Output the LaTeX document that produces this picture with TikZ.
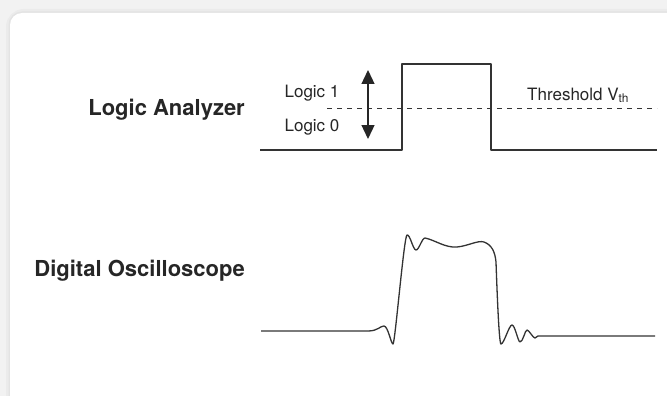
\documentclass[tikz,border=0pt]{standalone}
\usepackage{fontspec}
\setmainfont{TeX Gyre Heros}
\usetikzlibrary{positioning,arrows.meta}

\begin{document}
\begin{tikzpicture}
    [x=1pt,y=-1pt,every node/.style={inner sep=0pt,text=black!85},
    heading/.style={font=\fontsize{22}{26}\selectfont\bfseries,anchor=base east},
    small/.style={font=\fontsize{17}{20}\selectfont},
    signal/.style={line width=1.3pt,black!80,line join=round}]
    \useasboundingbox (0,0) rectangle (667,396);
    % panel
    \fill[black!5] (0,0) rectangle (667,396);
    \draw[black!8,line width=8pt,rounded corners=14pt] (10,13) rectangle (690,420);
    \draw[black!11,line width=3pt,rounded corners=12pt] (10,13) rectangle (690,420);
    \fill[white,rounded corners=12pt] (10,13) rectangle (690,420);
    % labels
    \node (la) [heading] at (245,115) {Logic Analyzer};
    \node (do) [heading] at (245,276) {Digital Oscilloscope};
    \node (l1) [small,anchor=base] at (312,97) {Logic 1};
    \node (l0) [small,anchor=base] at (312,131) {Logic 0};
    \node (vth) [small,anchor=base west] at (527,100) {Threshold V\textsubscript{th}};
    % logic analyzer trace
    \draw[signal] (260,150) -- (402,150) -- (402,64) -- (491,64) -- (491,150)
      -- (657,150);
    \draw[black!80,line width=1pt,dash pattern=on 5pt off 5pt] (327,108) -- (657,108);
    \coordinate (up) at (368,70);
    \coordinate (dn) at (368,139);
    \draw[black!85,line width=1.3pt,{Triangle[length=14pt,width=13pt]}-{Triangle[length=14pt,width=13pt]}]
      (up) -- (dn);
    % oscilloscope trace
    \draw[signal] (261,331) -- (368,331)
      .. controls (378,331) and (380,326) .. (384,326)
      .. controls (388,326) and (391,344) .. (393,344)
      .. controls (395,344) and (404,236) .. (407,235)
      .. controls (410,234) and (413,250) .. (416,250)
      .. controls (419,250) and (422,238) .. (425,238)
      .. controls (435,240) and (445,248) .. (457,247)
      .. controls (468,246) and (478,240) .. (484,242)
      .. controls (492,245) and (495,252) .. (496,262)
      .. controls (497,290) and (499,344) .. (501,344)
      .. controls (504,344) and (509,325) .. (512,325)
      .. controls (515,325) and (518,342) .. (520,342)
      .. controls (523,342) and (525,330) .. (527,330)
      .. controls (529,330) and (533,338) .. (535,338)
      -- (538,336) -- (655,336);
\end{tikzpicture}
\end{document}
